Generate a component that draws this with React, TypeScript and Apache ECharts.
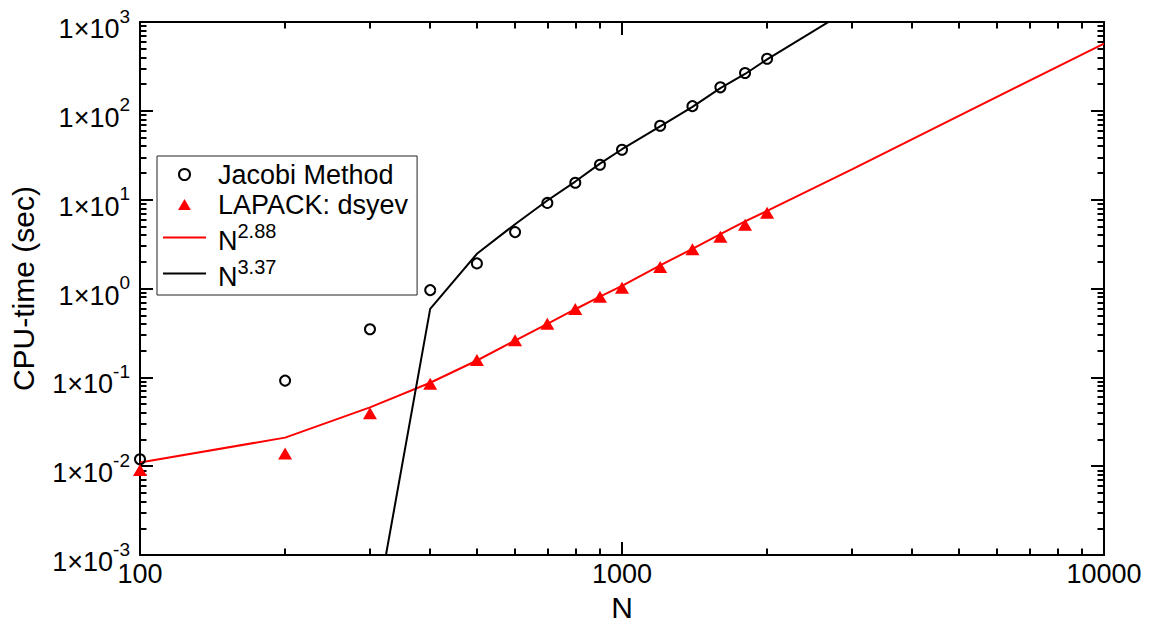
import React, { useEffect, useRef } from "react";
import * as echarts from "echarts";

// ---- data ----
const sizesN = [100, 200, 300, 400, 500, 600, 700, 800, 900, 1000, 1200, 1400, 1600, 1800, 2000];
const jacobiTime = [0.012, 0.092, 0.348, 0.96, 1.92, 4.32, 9.2, 15.5, 24.7, 36.5, 68, 113, 184, 267, 386];
const lapackTime = [0.0091, 0.0139, 0.0394, 0.0847, 0.157, 0.262, 0.402, 0.589, 0.807, 1.02, 1.75, 2.77, 3.83, 5.24, 7.12];

const fitRedN = [100, 200, 300, 400, 500, 600, 700, 800, 900, 1000, 1200, 1400, 1600, 1800, 2000, 3000, 5000, 10000];
const fitRedTime = [0.011, 0.021, 0.046, 0.087, 0.155, 0.26, 0.4, 0.585, 0.81, 1.07, 1.82, 2.8, 4.1, 5.7, 7.5, 22, 88, 570];

const fitBlackN = [300, 400, 500, 600, 700, 800, 900, 1000, 1200, 1400, 1600, 1800, 2000, 3000];
const fitBlackTime = [0.0001, 0.59, 2.46, 5.3, 9.8, 16, 25.5, 37, 67, 111, 180, 260, 380, 1450];

const seriesNames = ["Jacobi Method", "LAPACK: dsyev", "N^2.88", "N^3.37"];

const xTickValues = [100, 1000, 10000];
const xTickLabels = ["100", "1000", "10000"];
const xMinorTicks = [200, 300, 400, 500, 600, 700, 800, 900, 2000, 3000, 4000, 5000, 6000, 7000, 8000, 9000];

const yTickValues = [0.001, 0.01, 0.1, 1, 10, 100, 1000];
const yTickExponents = ["-3", "-2", "-1", "0", "1", "2", "3"];
const yMinorTicks = [
  0.002, 0.003, 0.004, 0.005, 0.006, 0.007, 0.008, 0.009,
  0.02, 0.03, 0.04, 0.05, 0.06, 0.07, 0.08, 0.09,
  0.2, 0.3, 0.4, 0.5, 0.6, 0.7, 0.8, 0.9,
  2, 3, 4, 5, 6, 7, 8, 9,
  20, 30, 40, 50, 60, 70, 80, 90,
  200, 300, 400, 500, 600, 700, 800, 900,
];

const FONT = "'Liberation Sans', Arial, Helvetica, sans-serif";
const BLACK = "#000000";
const RED = "#ff0000";

function findIndex(values: number[], v: number) {
  for (let i = 0; i < values.length; i++) {
    if (Math.abs(Math.log10(values[i]) - Math.log10(v)) < 1e-6) return i;
  }
  return -1;
}

function pairs(xs: number[], ys: number[]) {
  return xs.map((x, i) => [x, ys[i]]);
}

function tickStyle() {
  return { color: BLACK, width: 2 };
}

function frameAxis(kind: "x" | "y", position: string, ticks: number[], length: number, showLine: boolean, offset: number): any {
  return {
    type: "log",
    logBase: 10,
    min: kind === "x" ? 100 : 0.001,
    max: kind === "x" ? 10000 : 1000,
    position,
    offset,
    splitLine: { show: false },
    minorTick: { show: false },
    axisLine: { show: showLine, onZero: false, lineStyle: tickStyle() },
    axisTick: { show: true, inside: true, length, lineStyle: tickStyle(), customValues: ticks },
    axisLabel: { show: false },
  };
}

export default function App() {
  const ref = useRef<HTMLDivElement>(null);

  useEffect(() => {
    if (!ref.current) return;
    const chart = echarts.init(ref.current, undefined, { renderer: "svg" });

    const option: any = {
      animation: false,
      grid: { left: 140, right: 47, top: 22, bottom: 64 },
      legend: {
        orient: "vertical",
        left: 157,
        top: 156,
        data: [
          { name: seriesNames[0], icon: "circle" },
          { name: seriesNames[1], icon: "path://M0,12 L7,0 L14,12 Z" },
          { name: seriesNames[2], icon: "path://M0,0 L43,0 L43,2 L0,2 Z" },
          { name: seriesNames[3], icon: "path://M0,0 L43,0 L43,2 L0,2 Z" },
        ],
        selectedMode: false,
        backgroundColor: "#ffffff",
        borderColor: "#222222",
        borderWidth: 1,
        borderRadius: 0,
        padding: [5, 9, 5, 6],
        itemGap: 3,
        itemWidth: 43,
        itemHeight: 11,
        formatter: (name: string) => {
          const k = name.indexOf("^");
          if (k < 0) return name;
          return "{b|" + name.slice(0, k) + "}{s|" + name.slice(k + 1) + "}";
        },
        textStyle: {
          fontFamily: FONT,
          fontSize: 27,
          color: BLACK,
          lineHeight: 26,
          padding: [0, 0, 0, 7],
          rich: {
            b: { fontFamily: FONT, fontSize: 27, color: BLACK, lineHeight: 33, verticalAlign: "bottom" },
            s: { fontFamily: FONT, fontSize: 20, color: BLACK, verticalAlign: "top" },
          },
        },
      },
      xAxis: [
        {
          ...frameAxis("x", "bottom", xTickValues, 13, true, 0),
          axisLabel: {
            show: true,
            customValues: xTickValues,
            formatter: (v: number) => {
              const i = findIndex(xTickValues, v);
              return i >= 0 ? xTickLabels[i] : "";
            },
            margin: 5,
            color: BLACK,
            fontSize: 27,
            fontFamily: FONT,
          },
          name: "N",
          nameLocation: "middle",
          nameGap: 26,
          nameTextStyle: { fontSize: 30, color: BLACK, fontFamily: FONT },
        },
        frameAxis("x", "bottom", xMinorTicks, 7, false, 0.5),
        frameAxis("x", "top", xTickValues, 13, true, 0),
        frameAxis("x", "top", xMinorTicks, 7, false, 0.5),
      ],
      yAxis: [
        {
          ...frameAxis("y", "left", yTickValues, 13, true, 0),
          axisLabel: {
            show: true,
            customValues: yTickValues,
            formatter: (v: number) => {
              const i = findIndex(yTickValues, v);
              return i >= 0 ? "{b|1×10}{s|" + yTickExponents[i] + "}" : "";
            },
            margin: 10,
            padding: [5, 0, 0, 0],
            color: BLACK,
            fontFamily: FONT,
            rich: {
              b: { fontFamily: FONT, fontSize: 27, color: BLACK, lineHeight: 36, verticalAlign: "bottom" },
              s: { fontFamily: FONT, fontSize: 19, color: BLACK, verticalAlign: "top" },
            },
          },
          name: "CPU-time (sec)",
          nameLocation: "middle",
          nameGap: 102,
          nameTextStyle: { fontSize: 30, color: BLACK, fontFamily: FONT },
        },
        frameAxis("y", "left", yMinorTicks, 7, false, 0.5),
        frameAxis("y", "right", yTickValues, 13, true, 0),
        frameAxis("y", "right", yMinorTicks, 7, false, 0.5),
      ],
      series: [
        {
          name: seriesNames[0],
          type: "scatter",
          xAxisIndex: 0,
          yAxisIndex: 0,
          symbol: "circle",
          symbolSize: 10,
          itemStyle: { color: "rgba(255,255,255,0)", borderColor: BLACK, borderWidth: 2, opacity: 1 },
          data: pairs(sizesN, jacobiTime),
          z: 5,
        },
        {
          name: seriesNames[1],
          type: "scatter",
          xAxisIndex: 0,
          yAxisIndex: 0,
          symbol: "triangle",
          symbolSize: [14, 12],
          itemStyle: { color: RED, opacity: 1 },
          data: pairs(sizesN, lapackTime),
          z: 5,
        },
        {
          name: seriesNames[2],
          type: "line",
          xAxisIndex: 0,
          yAxisIndex: 0,
          showSymbol: false,
          symbol: "none",
          clip: true,
          lineStyle: { color: RED, width: 2 },
          itemStyle: { color: RED },
          data: pairs(fitRedN, fitRedTime),
          z: 3,
        },
        {
          name: seriesNames[3],
          type: "line",
          xAxisIndex: 0,
          yAxisIndex: 0,
          showSymbol: false,
          symbol: "none",
          clip: true,
          lineStyle: { color: BLACK, width: 2 },
          itemStyle: { color: BLACK },
          data: pairs(fitBlackN, fitBlackTime),
          z: 3,
        },
      ],
    };

    chart.setOption(option);
    return () => chart.dispose();
  }, []);

  return (
    <div
      ref={ref}
      style={{ position: "fixed", left: 0, top: 0, width: 1151, height: 627, background: "#ffffff" }}
    />
  );
}
